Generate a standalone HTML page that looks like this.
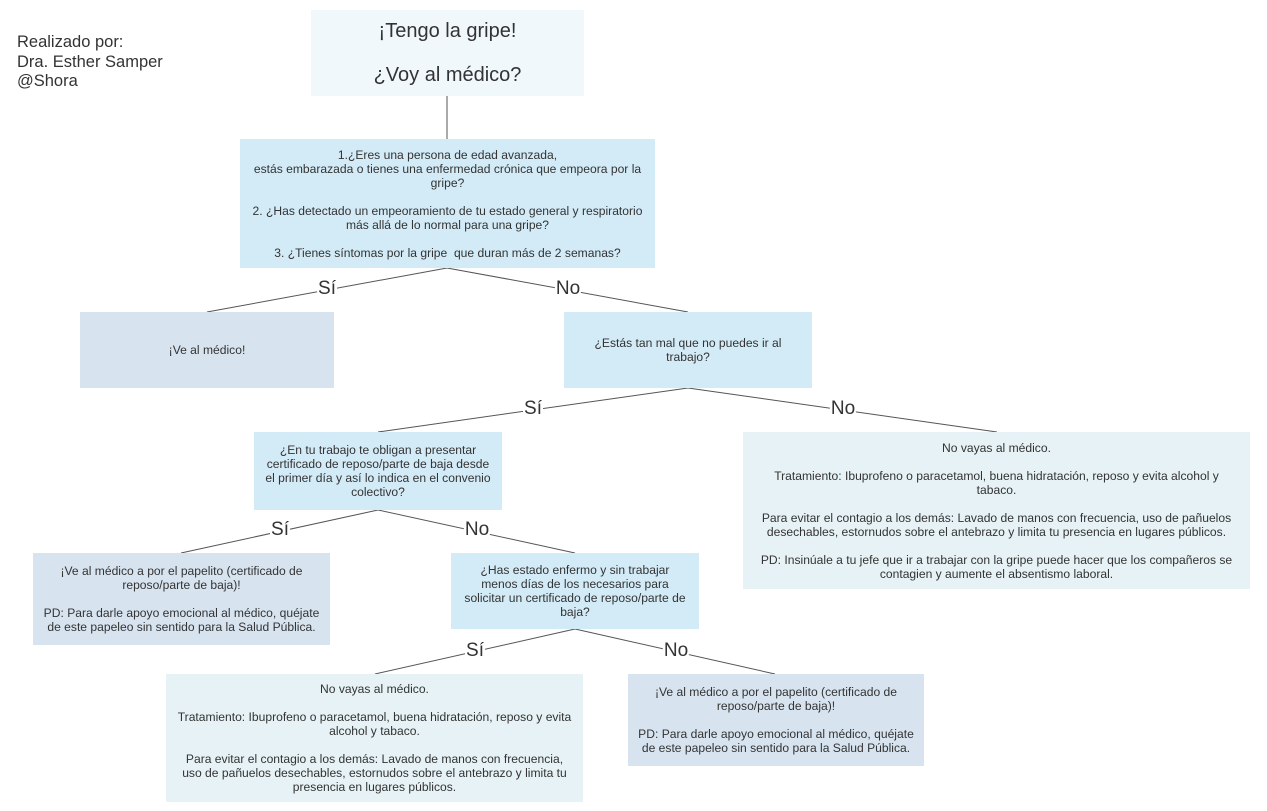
<!DOCTYPE html>
<html><head><meta charset="utf-8"><style>
body{margin:0;width:1267px;height:811px;background:#fff;position:relative;overflow:hidden;font-family:"Liberation Sans",Arial,sans-serif;color:#333}
.b{position:absolute;display:flex;align-items:center;justify-content:center;text-align:center;font-size:12.1px;line-height:14px;white-space:nowrap}
.q{background:#d3ebf7}.v{background:#d7e4f0}.n{background:#e6f2f5}
.l{position:absolute;font-size:19px;background:#fff;padding:0 1px;line-height:20px;transform:translate(-50%,-50%)}
svg{position:absolute;left:0;top:0}
</style></head><body>
<svg width="1267" height="811"><g stroke="#555" stroke-width="1">
<line x1="447" y1="96" x2="447" y2="139"/>
<line x1="447" y1="268" x2="207" y2="312"/><line x1="447" y1="268" x2="688" y2="312"/>
<line x1="688" y1="388" x2="378" y2="432"/><line x1="688" y1="388" x2="997" y2="432"/>
<line x1="378" y1="510" x2="181" y2="553"/><line x1="378" y1="510" x2="575" y2="553"/>
<line x1="575" y1="629" x2="375" y2="674"/><line x1="575" y1="629" x2="775" y2="674"/>
</g></svg>
<div style="position:absolute;left:17px;top:33px;font-size:16.5px;line-height:19.5px">Realizado por:<br>Dra. Esther Samper<br>@Shora</div>
<div class="b" style="left:311px;top:10px;width:273px;height:86px;background:#f0f8fc;font-size:20px;line-height:22px">¡Tengo la gripe!<br><br>¿Voy al médico?</div>
<div class="b q" style="left:240px;top:139px;width:415px;height:129px">1.¿Eres una persona de edad avanzada,<br>estás embarazada o tienes una enfermedad crónica que empeora por la<br>gripe?<br><br>2. ¿Has detectado un empeoramiento de tu estado general y respiratorio<br>más allá de lo normal para una gripe?<br><br>3. ¿Tienes síntomas por la gripe &nbsp;que duran más de 2 semanas?</div>
<div class="b v" style="left:80px;top:312px;width:254px;height:76px">¡Ve al médico!</div>
<div class="b q" style="left:564px;top:312px;width:248px;height:76px">¿Estás tan mal que no puedes ir al<br>trabajo?</div>
<div class="b q" style="left:254px;top:432px;width:248px;height:78px">¿En tu trabajo te obligan a presentar<br>certificado de reposo/parte de baja desde<br>el primer día y así lo indica en el convenio<br>colectivo?</div>
<div class="b n" style="left:743px;top:432px;width:507px;height:157px">No vayas al médico.<br><br>Tratamiento: Ibuprofeno o paracetamol, buena hidratación, reposo y evita alcohol y<br>tabaco.<br><br>Para evitar el contagio a los demás: Lavado de manos con frecuencia, uso de pañuelos<br>desechables, estornudos sobre el antebrazo y limita tu presencia en lugares públicos.<br><br>PD: Insinúale a tu jefe que ir a trabajar con la gripe puede hacer que los compañeros se<br>contagien y aumente el absentismo laboral.</div>
<div class="b v" style="left:33px;top:553px;width:297px;height:92px">¡Ve al médico a por el papelito (certificado de<br>reposo/parte de baja)!<br><br>PD: Para darle apoyo emocional al médico, quéjate<br>de este papeleo sin sentido para la Salud Pública.</div>
<div class="b q" style="left:451px;top:553px;width:248px;height:76px">¿Has estado enfermo y sin trabajar<br>menos días de los necesarios para<br>solicitar un certificado de reposo/parte de<br>baja?</div>
<div class="b n" style="left:166px;top:674px;width:417px;height:128px">No vayas al médico.<br><br>Tratamiento: Ibuprofeno o paracetamol, buena hidratación, reposo y evita<br>alcohol y tabaco.<br><br>Para evitar el contagio a los demás: Lavado de manos con frecuencia,<br>uso de pañuelos desechables, estornudos sobre el antebrazo y limita tu<br>presencia en lugares públicos.</div>
<div class="b v" style="left:628px;top:674px;width:296px;height:92px">¡Ve al médico a por el papelito (certificado de<br>reposo/parte de baja)!<br><br>PD: Para darle apoyo emocional al médico, quéjate<br>de este papeleo sin sentido para la Salud Pública.</div>
<div class="l" style="left:327px;top:289px">Sí</div><div class="l" style="left:568px;top:289px">No</div>
<div class="l" style="left:533px;top:409px">Sí</div><div class="l" style="left:843px;top:409px">No</div>
<div class="l" style="left:280px;top:530px">Sí</div><div class="l" style="left:477px;top:530px">No</div>
<div class="l" style="left:475px;top:651px">Sí</div><div class="l" style="left:676px;top:651px">No</div>
</body></html>
